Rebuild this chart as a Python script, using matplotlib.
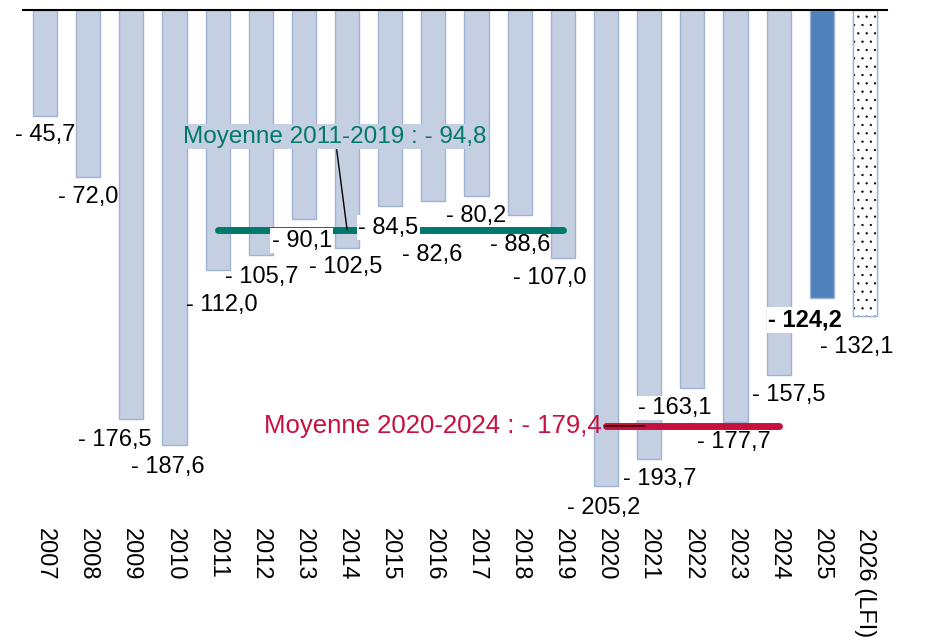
import matplotlib
matplotlib.use("Agg")
import matplotlib.pyplot as plt

plt.rcParams['font.family'] = ['Liberation Sans', 'DejaVu Sans']
plt.rcParams['hatch.linewidth'] = 0.4

# données
annees = ["2007", "2008", "2009", "2010", "2011", "2012", "2013", "2014", "2015", "2016",
          "2017", "2018", "2019", "2020", "2021", "2022", "2023", "2024", "2025", "2026 (LFI)"]
soldes = [-45.7, -72.0, -176.5, -187.6, -112.0, -105.7, -90.1, -102.5, -84.5, -82.6,
          -80.2, -88.6, -107.0, -205.2, -193.7, -163.1, -177.7, -157.5, -124.2, -132.1]
moy_1 = -94.8   # 2011-2019
moy_2 = -179.4  # 2020-2024

# decalages des étiquettes (pixels : dx, dy vers le bas)
decal = [(0, 19), (0, 20), (-16, 21), (-7, 22), (4, 35), (1, 22), (-2, 22), (-1, 19),
         (-2, 22), (-1, 54), (0, 20), (0, 30), (-13, 20), (-2, 22), (11, 20), (-18, 20),
         (-2, 20), (10, 20), (-17, 22), (-8, 31)]
fond_blanc = ["2013", "2015", "2022", "2025"]

clair = "#C5CFE2"
bord = "#9FB4D4"
teal = "#00786C"
rouge = "#C8103F"

fig = plt.figure(figsize=(9.39, 6.38), dpi=100)
ax = fig.add_axes([0.0249, 0.185, 0.9193, 0.7994])

x = list(range(len(annees)))
couleurs = [clair] * (len(annees) - 2) + ["#4F81BD", "white"]
ax.bar(x, soldes, width=0.56, color=couleurs, edgecolor=bord, linewidth=1, zorder=2)
# barre LFI pointillée
ax.bar(x[-1], soldes[-1], width=0.56, color="white", edgecolor="black", hatch="..",
       linewidth=0, zorder=2)
ax.bar(x[-1], soldes[-1], width=0.56, color="none", edgecolor=bord, linewidth=1, zorder=2)

# moyennes
ax.plot([x[4], x[12]], [moy_1, moy_1], color=teal, linewidth=5, solid_capstyle="round", zorder=3)
ax.plot([x[13], x[17]], [moy_2, moy_2], color=rouge, linewidth=5, solid_capstyle="round", zorder=3)

ax.annotate("Moyenne 2011-2019 : - 94,8", xy=(x[7], moy_1), xytext=(6.72, -54.7),
            ha="center", va="center", color=teal, fontsize=17.5,
            bbox=dict(facecolor=clair, edgecolor="none", pad=1),
            arrowprops=dict(arrowstyle="-", color="black", linewidth=1, shrinkA=0, shrinkB=0),
            zorder=5)
ax.annotate("Moyenne 2020-2024 : - 179,4", xy=(13.9, moy_2), xytext=(8.99, moy_2),
            ha="center", va="center", color=rouge, fontsize=18.5,
            arrowprops=dict(arrowstyle="-", color="black", linewidth=1, shrinkA=0, shrinkB=0),
            zorder=5)

# étiquettes de valeurs
for i, v in enumerate(soldes):
    txt = "- " + f"{abs(v):.1f}".replace(".", ",")
    dx, dy = decal[i]
    kw = {}
    if annees[i] in fond_blanc:
        kw["bbox"] = dict(facecolor="white", edgecolor="none", pad=1)
    ax.annotate(txt, xy=(i, v), xytext=(dx, -dy), textcoords="offset pixels",
                ha="center", va="center", fontsize=17,
                fontweight="bold" if annees[i] == "2025" else "normal",
                zorder=6, **kw)

ax.set_xlim(-0.5, len(annees) - 0.5)
ax.set_ylim(-220, 0)
ax.set_xticks(x)
ax.set_xticklabels(annees, rotation=270, fontsize=17)
ax.tick_params(axis="x", length=0, pad=6)
ax.set_yticks([])
for s in ["left", "right", "bottom"]:
    ax.spines[s].set_visible(False)
ax.spines["top"].set_linewidth(1.5)
ax.spines["top"].set_zorder(4)

fig.savefig("out.png", dpi=100)
